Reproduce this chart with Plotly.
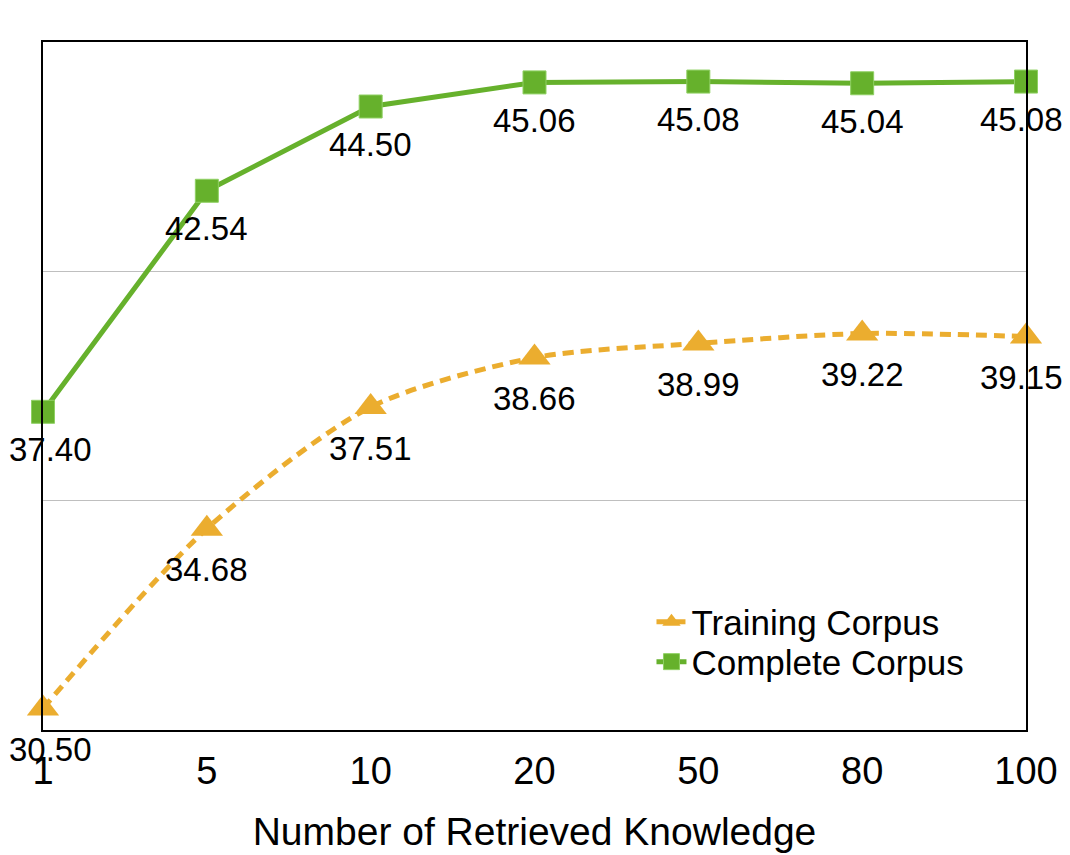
import plotly.graph_objects as go

categories = ["1", "5", "10", "20", "50", "80", "100"]
training = [30.50, 34.68, 37.51, 38.66, 38.99, 39.22, 39.15]
complete = [37.40, 42.54, 44.50, 45.06, 45.08, 45.04, 45.08]
series_names = ["Training Corpus", "Complete Corpus"]
x_title = "Number of Retrieved Knowledge"

GREEN = "#66B12C"
ORANGE = "#EBAD2F"
FONT = "Liberation Sans, Arial, Helvetica, sans-serif"

fig = go.Figure()
fig.add_trace(go.Scatter(
    x=categories, y=training, name=series_names[0], mode="lines+markers",
    line=dict(color=ORANGE, width=5, dash="11px,7px", shape="spline", smoothing=0.8),
    marker=dict(symbol="triangle-up", size=28, color=ORANGE),
    cliponaxis=False, legend="legend",
))
fig.add_trace(go.Scatter(
    x=categories, y=complete, name=series_names[1], mode="lines+markers",
    line=dict(color=GREEN, width=5),
    marker=dict(symbol="square", size=23, color=GREEN, line=dict(color="#8FD063", width=1)),
    cliponaxis=False, legend="legend2",
))

annotations = []
n = len(categories)
for ys, shift in ((training, -41), (complete, -38)):
    for i, yv in enumerate(ys):
        xs = 7 if i == 0 else (-5 if i == n - 1 else 0)
        annotations.append(dict(
            x=i, y=yv, xref="x", yref="y", text=f"{yv:.2f}", showarrow=False,
            yshift=shift, xshift=xs,
            font=dict(size=33, color="black", family=FONT),
        ))

leg_common = dict(
    x=0.619, xanchor="left", yanchor="middle",
    bgcolor="rgba(0,0,0,0)", font=dict(size=35, color="black"), itemwidth=30,
)

fig.update_layout(
    width=1070, height=855,
    margin=dict(l=35, r=52, t=34, b=133),
    paper_bgcolor="white", plot_bgcolor="white",
    font=dict(family=FONT, color="black"),
    annotations=annotations,
    showlegend=True,
    legend=dict(y=0.157, **leg_common),
    legend2=dict(y=0.099, **leg_common),
    xaxis=dict(
        type="category", range=[0, 6],
        showline=True, linecolor="black", linewidth=2, mirror=True,
        showgrid=False, ticks="", ticklabelstandoff=6,
        tickfont=dict(size=38, color="black"),
        title=dict(text=x_title, font=dict(size=39, color="black"), standoff=27),
    ),
    yaxis=dict(
        range=[30, 46],
        tickvals=[30 + 16 / 3, 30 + 32 / 3],
        showticklabels=False, ticks="",
        showgrid=True, gridcolor="#BFBFBF", gridwidth=1,
        showline=True, linecolor="black", linewidth=2, mirror=True,
        zeroline=False,
    ),
)

fig.write_html("out.html")
